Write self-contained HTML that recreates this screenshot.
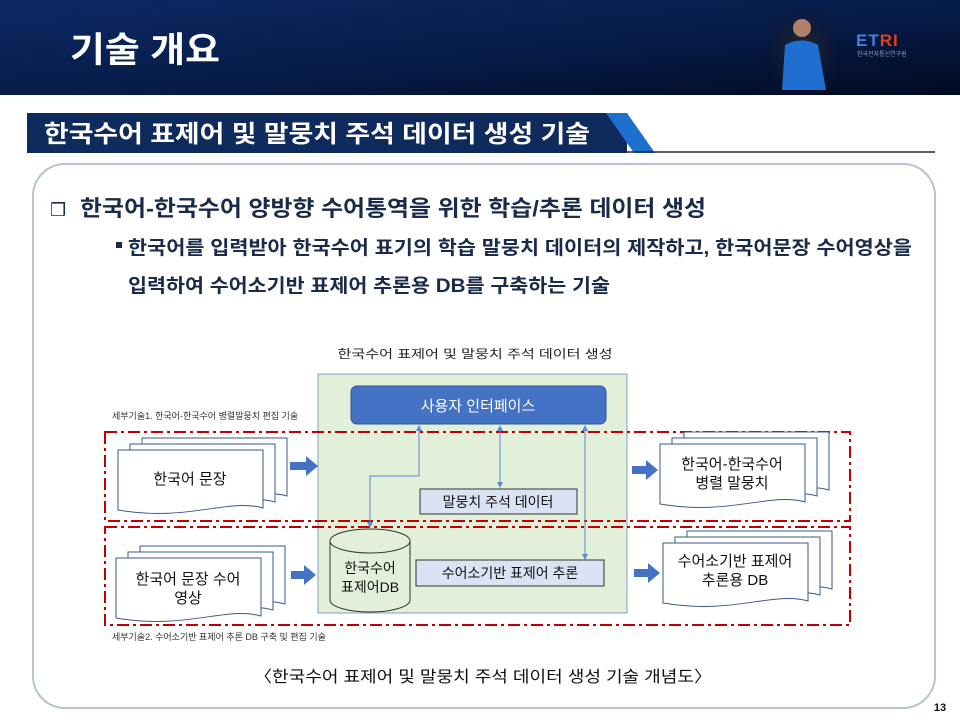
<!DOCTYPE html>
<html><head><meta charset="utf-8"><style>
body{margin:0;width:960px;height:720px;overflow:hidden;background:#fff;font-family:"Liberation Sans","Noto Sans CJK KR",sans-serif;}
</style></head><body>
<svg width="960" height="720" viewBox="0 0 960 720" xmlns="http://www.w3.org/2000/svg" style="position:absolute;left:0;top:0">
<defs>
<linearGradient id="hd" x1="0" y1="0" x2="1" y2="1"><stop offset="0" stop-color="#0d2a66"/><stop offset="0.6" stop-color="#061a44"/><stop offset="1" stop-color="#020a22"/></linearGradient>
<radialGradient id="av" cx="0.5" cy="0.5" r="0.6"><stop offset="0" stop-color="#2a2a2a"/><stop offset="1" stop-color="#0a1430" stop-opacity="0"/></radialGradient>
<marker id="ah" markerWidth="6" markerHeight="6" refX="5" refY="3" orient="auto"><path d="M0,0 L6,3 L0,6 z" fill="#5b8bd0"/></marker>
<marker id="at" markerWidth="6" markerHeight="6" refX="1" refY="3" orient="auto"><path d="M6,0 L0,3 L6,6 z" fill="#5b8bd0"/></marker>
<g id="doc"><path d="M0,0 H145 V58 C110,48 70,72 0,60 Z" fill="#fff" stroke="#3a5a8a" stroke-width="1"/></g>
</defs>
<rect x="0" y="0" width="960" height="95" fill="url(#hd)"/>
<text x="70" y="62" font-size="35" font-weight="bold" fill="#fff" textLength="150" lengthAdjust="spacingAndGlyphs">기술 개요</text>
<rect x="768" y="8" width="70" height="87" fill="url(#av)"/>
<circle cx="802" cy="28" r="9" fill="#b0806a"/>
<path d="M785,45 Q802,36 818,45 L826,90 H782 Z" fill="#1f6fd0"/>
<text x="856" y="46" font-size="17" font-weight="bold" fill="#3f7fe0" letter-spacing="1">ET<tspan fill="#e04020">RI</tspan></text>
<text x="857" y="56" font-size="6" fill="#8aa0c8">한국전자통신연구원</text>
<rect x="27" y="113" width="600" height="40" fill="#0f2a5c"/>
<polygon points="606,113 627,113 655,153 634,153" fill="#1e6fd0"/>
<line x1="627" y1="152" x2="935" y2="152" stroke="#1a2a4a" stroke-width="1.5"/>
<text x="44" y="142" font-size="24" font-weight="bold" fill="#fff" textLength="546" lengthAdjust="spacingAndGlyphs">한국수어 표제어 및 말뭉치 주석 데이터 생성 기술</text>
<rect x="33" y="164" width="902" height="544" rx="32" fill="#fff" stroke="#b8c4d4" stroke-width="2"/>
<text x="50" y="216" font-size="18" fill="#1a2a4a">❒</text>
<text x="80" y="216" font-size="22" font-weight="bold" fill="#1a2a4a" textLength="626" lengthAdjust="spacingAndGlyphs">한국어-한국수어 양방향 수어통역을 위한 학습/추론 데이터 생성</text>
<rect x="116" y="242" width="6" height="6" fill="#1a2a4a"/>
<text x="128" y="254" font-size="19" font-weight="bold" fill="#1a2a4a" textLength="784" lengthAdjust="spacingAndGlyphs">한국어를 입력받아 한국수어 표기의 학습 말뭉치 데이터의 제작하고, 한국어문장 수어영상을</text>
<text x="128" y="292" font-size="19" font-weight="bold" fill="#1a2a4a" textLength="482" lengthAdjust="spacingAndGlyphs">입력하여 수어소기반 표제어 추론용 DB를 구축하는 기술</text>
<text x="475" y="358" font-size="12" fill="#222" text-anchor="middle" textLength="275" lengthAdjust="spacingAndGlyphs">한국수어 표제어 및 말뭉치 주석 데이터 생성</text>
<rect x="318" y="374" width="309" height="239" fill="#e2efd9" stroke="#7f9fc8" stroke-width="1"/>
<rect x="351" y="386" width="255" height="38" rx="6" fill="#4472c4" stroke="#2f5597"/>
<text x="478" y="411" font-size="15" fill="#fff" text-anchor="middle">사용자 인터페이스</text>
<text x="112" y="419" font-size="9" fill="#333">세부기술1. 한국어-한국수어 병렬말뭉치 편집 기술</text>
<rect x="105" y="432" width="745" height="89" fill="none" stroke="#c00000" stroke-width="2" stroke-dasharray="12,4,3,4"/>
<rect x="105" y="527" width="745" height="98" fill="none" stroke="#c00000" stroke-width="2" stroke-dasharray="12,4,3,4"/>
<text x="112" y="640" font-size="9" fill="#333">세부기술2. 수어소기반 표제어 추론 DB 구축 및 편집 기술</text>
<path d="M419,426 V476 H370 V527" fill="none" stroke="#5b8bd0" stroke-width="1" marker-start="url(#at)" marker-end="url(#ah)"/>
<line x1="500" y1="426" x2="500" y2="487" stroke="#5b8bd0" marker-start="url(#at)" marker-end="url(#ah)"/>
<line x1="585" y1="426" x2="585" y2="559" stroke="#5b8bd0" marker-start="url(#at)" marker-end="url(#ah)"/>
<rect x="420" y="489" width="157" height="25" fill="#dae3f3" stroke="#333"/>
<text x="498" y="507" font-size="14" fill="#111" text-anchor="middle">말뭉치 주석 데이터</text>
<rect x="416" y="560" width="188" height="26" fill="#dae3f3" stroke="#333"/>
<text x="510" y="578" font-size="14" fill="#111" text-anchor="middle">수어소기반 표제어 추론</text>
<path d="M330,541 V600 A40,12 0 0 0 410,600 V541" fill="#e2efd9" stroke="#333"/>
<ellipse cx="370" cy="541" rx="40" ry="12" fill="#e2efd9" stroke="#333"/>
<text x="370" y="573" font-size="14" fill="#111" text-anchor="middle">한국수어</text>
<text x="370" y="592" font-size="14" fill="#111" text-anchor="middle">표제어DB</text>
<use href="#doc" x="142" y="438"/><use href="#doc" x="130" y="444"/><use href="#doc" x="118" y="450"/>
<text x="190" y="484" font-size="15" fill="#111" text-anchor="middle">한국어 문장</text>
<use href="#doc" x="140" y="546"/><use href="#doc" x="128" y="552"/><use href="#doc" x="116" y="558"/>
<text x="188" y="584" font-size="15" fill="#111" text-anchor="middle">한국어 문장 수어</text>
<text x="188" y="603" font-size="15" fill="#111" text-anchor="middle">영상</text>
<use href="#doc" x="684" y="432"/><use href="#doc" x="672" y="438"/><use href="#doc" x="660" y="444"/>
<text x="732" y="469" font-size="15" fill="#111" text-anchor="middle">한국어-한국수어</text>
<text x="732" y="488" font-size="15" fill="#111" text-anchor="middle">병렬 말뭉치</text>
<use href="#doc" x="687" y="531"/><use href="#doc" x="675" y="537"/><use href="#doc" x="663" y="543"/>
<text x="735" y="566" font-size="15" fill="#111" text-anchor="middle">수어소기반 표제어</text>
<text x="735" y="585" font-size="15" fill="#111" text-anchor="middle">추론용 DB</text>
<g fill="#4472c4">
<polygon points="290,462 306,462 306,456 318,466 306,476 306,470 290,470"/>
<polygon points="291,571 304,571 304,565 316,575 304,585 304,579 291,579"/>
<polygon points="632,466 646,466 646,460 658,470 646,480 646,474 632,474"/>
<polygon points="634,569 648,569 648,563 660,573 648,583 648,577 634,577"/>
</g>
<text x="483" y="682" font-size="16" fill="#111" text-anchor="middle" textLength="458" lengthAdjust="spacingAndGlyphs">〈한국수어 표제어 및 말뭉치 주석 데이터 생성 기술 개념도〉</text>
<text x="940" y="711" font-size="11" font-weight="bold" fill="#111" text-anchor="middle">13</text>
</svg>
</body></html>
